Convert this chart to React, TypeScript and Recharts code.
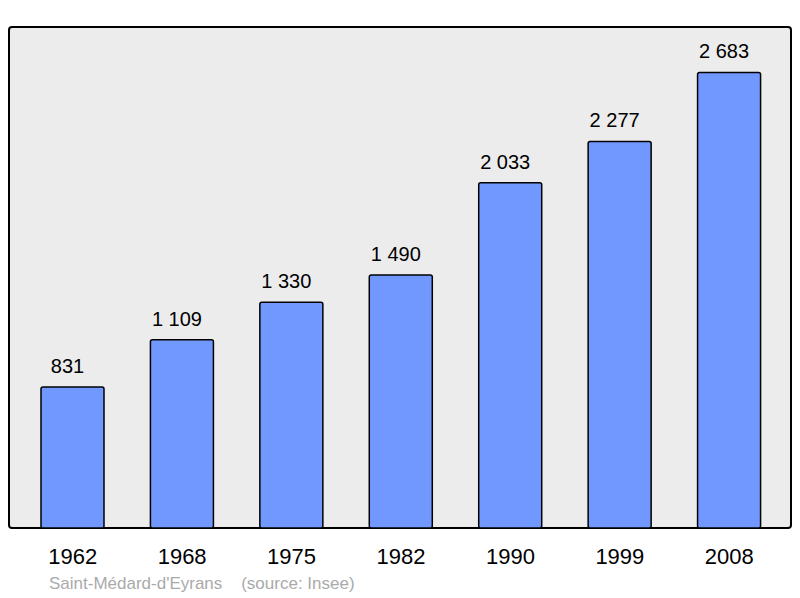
import React from 'react';
import { BarChart, Bar, XAxis, YAxis, LabelList } from 'recharts';

// populations par recensement
const years = ['1962', '1968', '1975', '1982', '1990', '1999', '2008'];
const population = [831, 1109, 1330, 1490, 2033, 2277, 2683];
const Y_MAX = 2951;

const data = years.map((y, i) => ({ year: y, pop: population[i] }));

const FONT = '"Liberation Sans", Arial, sans-serif';

// 2683 -> "2 683"
const fmt = (v: number) => String(v).replace(/\B(?=(\d{3})+(?!\d))/g, ' ');

export default function App() {
  return (
    <div style={{ position: 'absolute', left: 0, top: 0, width: 800, height: 598, background: '#fff' }}>
      {/* cadre gris du graphique */}
      <div
        style={{
          position: 'absolute',
          left: 8,
          top: 26,
          width: 784,
          height: 503,
          boxSizing: 'border-box',
          border: '2px solid #000',
          borderRadius: 4,
          background: '#ececec',
        }}
      />
      <div style={{ position: 'absolute', left: 0, top: 0 }}>
        <BarChart
          width={800}
          height={598}
          data={data}
          margin={{ top: 27, right: 9, left: 9, bottom: 40 }}
          barSize={63}
        >
          <XAxis
            dataKey="year"
            height={30}
            axisLine={false}
            tickLine={false}
            tickSize={0}
            tickMargin={20}
            padding={{ left: 9, right: 7 }}
            tick={{ fill: '#000', fontSize: 22, fontFamily: FONT }}
            interval={0}
          />
          <YAxis hide domain={[0, Y_MAX]} allowDataOverflow />
          <Bar
            dataKey="pop"
            fill="#7098ff"
            stroke="#000"
            strokeWidth={1.5}
            radius={2}
            isAnimationActive={false}
          >
            <LabelList
              dataKey="pop"
              position="top"
              offset={14}
              dx={-5}
              formatter={(v: number) => fmt(v)}
              style={{ fill: '#000', fontSize: 20, fontFamily: FONT }}
            />
          </Bar>
        </BarChart>
      </div>
      <div
        style={{
          position: 'absolute',
          left: 49,
          top: 574,
          fontFamily: FONT,
          fontSize: 17,
          color: '#aaaaaa',
          whiteSpace: 'pre',
          lineHeight: '20px',
        }}
      >
        {"Saint-Médard-d'Eyrans    (source: Insee)"}
      </div>
    </div>
  );
}
